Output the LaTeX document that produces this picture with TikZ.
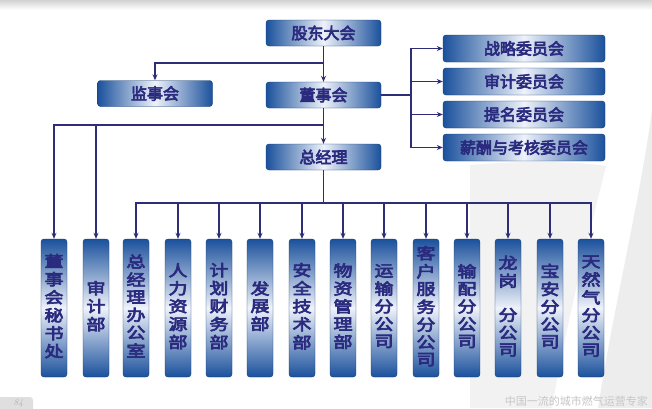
\documentclass[tikz,border=0pt]{standalone}
\usepackage{fontspec}
\usepackage{graphicx}
\newfontfamily\cjk[FakeBold=4]{Noto Sans CJK SC}
\newfontfamily\cjklight{Noto Sans CJK SC}
\usetikzlibrary{arrows.meta}
\definecolor{bdark}{HTML}{1B519C}
\definecolor{blight}{HTML}{EEF2FA}
\definecolor{navy}{HTML}{2A2A7E}
\definecolor{lineblue}{HTML}{2E2E78}
\newcommand\vtext[1]{\scalebox{1}[0.82]{\begin{tabular}{@{}c@{}}#1\end{tabular}}}
\tikzset{
  hbox/.style={draw=bdark!70!black, line width=0.4pt, rounded corners=3pt,
    minimum width=115pt, minimum height=26pt, inner sep=0pt,
    left color=bdark, right color=bdark, middle color=blight,
    text=navy, font=\cjk\fontsize{16}{16}\selectfont},
  cbox/.style={hbox, minimum width=162pt, minimum height=27pt},
  vbox/.style={draw=bdark!70!black, line width=0.4pt, rounded corners=3pt,
    minimum width=26pt, minimum height=138pt, inner sep=0pt, align=center,
    top color=bdark, bottom color=bdark, middle color=blight,
    text=navy, font=\cjk\fontsize{19}{20}\selectfont},
  conn/.style={draw=lineblue, line width=1.6pt},
  arr/.style={conn, -{Stealth[length=6pt,width=5pt]}}
}
\begin{document}
\begin{tikzpicture}[x=1pt,y=-1pt]
\useasboundingbox (0,0) rectangle (652,408);
% background
\fill[white] (0,0) rectangle (652,408);
\shade[top color=gray!35, bottom color=white] (0,0) rectangle (652,10);
\fill[gray!10] (470,165) .. controls (530,160) and (580,162) .. (606,166)
  .. controls (585,250) and (565,330) .. (552,408) -- (470,408) -- cycle;
\fill[gray!14] (652,110) .. controls (640,200) and (615,300) .. (598,408)
  -- (652,408) -- cycle;
\begin{scope}
\clip (0,0) rectangle (652,408);
\fill[gray!25, rounded corners=3pt] (-5,397) rectangle (33,414);
\node[text=gray!60, font=\itshape\fontsize{9}{9}\selectfont, anchor=west] (pg) at (10,403) {84};
\end{scope}
\node[text=gray!45, font=\cjklight\fontsize{11}{11}\selectfont, anchor=east, inner sep=0pt] (ft) at (648,401) {中国一流的城市燃气运营专家};
% top nodes
\node[hbox] (gd) at (323.5,33) {股东大会};
\node[hbox] (js) at (155,93.5) {监事会};
\node[hbox] (ds) at (323.5,95) {董事会};
\node[hbox] (zj) at (323.5,157) {总经理};
\node[cbox] (c1) at (524,48.5) {战略委员会};
\node[cbox] (c2) at (524,81.5) {审计委员会};
\node[cbox] (c3) at (524,114.5) {提名委员会};
\node[cbox] (c4) at (524,147.5) {薪酬与考核委员会};
% bottom nodes
\node[vbox] (m1) at (54,308) {\vtext{董\\事\\会\\秘\\书\\处}};
\node[vbox] (m2) at (96,308) {\vtext{审\\计\\部}};
\node[vbox] (m3) at (136,308) {\vtext{总\\经\\理\\办\\公\\室}};
\node[vbox] (m4) at (178,308) {\vtext{人\\力\\资\\源\\部}};
\node[vbox] (m5) at (219,308) {\vtext{计\\划\\财\\务\\部}};
\node[vbox] (m6) at (260,308) {\vtext{发\\展\\部}};
\node[vbox] (m7) at (302,308) {\vtext{安\\全\\技\\术\\部}};
\node[vbox] (m8) at (343,308) {\vtext{物\\资\\管\\理\\部}};
\node[vbox] (m9) at (384,308) {\vtext{运\\输\\分\\公\\司}};
\node[vbox] (m10) at (426,308) {\vtext{客\\户\\服\\务\\分\\公\\司}};
\node[vbox] (m11) at (467,308) {\vtext{输\\配\\分\\公\\司}};
\node[vbox] (m12) at (508,308) {\vtext{龙\\岗\\\mbox{}\\分\\公\\司}};
\node[vbox] (m13) at (550,308) {\vtext{宝\\安\\分\\公\\司}};
\node[vbox] (m14) at (591,308) {\vtext{天\\然\\气\\分\\公\\司}};
% connectors
\coordinate (b1) at (323.5,63);
\coordinate (b2) at (323.5,125);
\coordinate (b3) at (411,95);
\coordinate (b4) at (323.5,203);
\draw[arr] (gd.south) -- (ds.north);
\draw[arr] (b1) -| (js.north);
\draw[arr] (ds.south) -- (zj.north);
\draw[arr] (b2) -| (m1.north);
\draw[arr] (b2) -| (m2.north);
\draw[conn] (ds.east) -- (b3);
\foreach \c in {c1,c2,c3,c4} \draw[arr] (b3) |- (\c.west);
\draw[conn] (zj.south) -- (b4);
\foreach \m in {m3,m4,m5,m6,m7,m8,m9,m10,m11,m12,m13,m14} \draw[arr] (b4) -| (\m.north);
\end{tikzpicture}
\end{document}
